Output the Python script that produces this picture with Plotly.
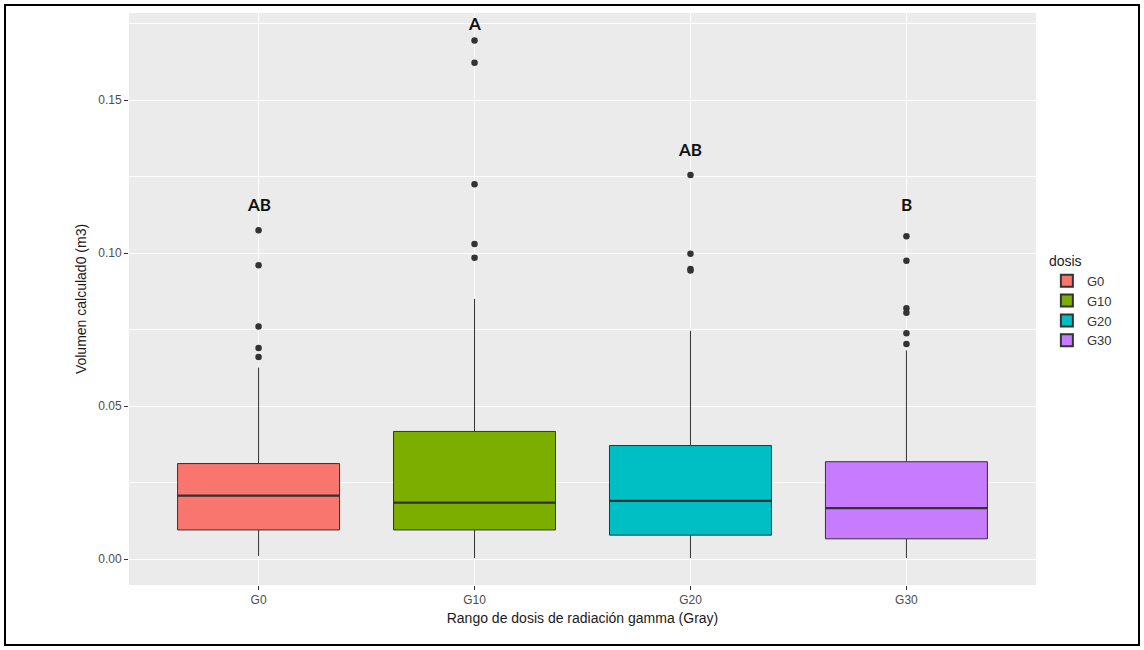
import plotly.graph_objects as go

# Dose groups and five-number summaries of calculated volume (m3)
categories = ["G0", "G10", "G20", "G30"]
q1 = [0.0095, 0.0095, 0.0078, 0.0066]
median = [0.0207, 0.0184, 0.0190, 0.0166]
q3 = [0.0312, 0.0417, 0.0371, 0.0318]
lower_whisker = [0.0010, 0.0003, 0.0003, 0.0003]
upper_whisker = [0.0626, 0.0850, 0.0746, 0.0682]

# Outlying observations per group
outliers = [
    [0.1075, 0.0960, 0.0760, 0.0690, 0.0660],
    [0.1695, 0.1622, 0.1225, 0.1030, 0.0985],
    [0.1255, 0.0998, 0.0948, 0.0943],
    [0.1055, 0.0975, 0.0820, 0.0805, 0.0738, 0.0703],
]

# Significance letters and their heights
letters = ["AB", "A", "AB", "B"]
letter_y = [0.1160, 0.1750, 0.1340, 0.1160]

fills = ["#F8766D", "#7CAE00", "#00BFC4", "#C77CFF"]
edge = "#333333"
box_w = 0.75

W, H = 1144, 650
ML, MR, MT, MB = 129, 108, 13, 65

fig = go.Figure()
for i, cat in enumerate(categories):
    fig.add_trace(go.Box(
        x=[i], q1=[q1[i]], median=[median[i]], q3=[q3[i]],
        lowerfence=[lower_whisker[i]], upperfence=[upper_whisker[i]],
        name=cat, width=box_w, fillcolor=fills[i],
        line=dict(color=edge, width=1), whiskerwidth=0,
        boxpoints=False, showlegend=True, legendgroup=cat,
    ))
    # thicker median bar
    fig.add_trace(go.Scatter(
        x=[i - box_w / 2, i + box_w / 2], y=[median[i], median[i]],
        mode="lines", line=dict(color=edge, width=2.2),
        showlegend=False, hoverinfo="skip", legendgroup=cat,
    ))
    fig.add_trace(go.Scatter(
        x=[i] * len(outliers[i]), y=outliers[i], mode="markers",
        marker=dict(color=edge, size=6.5), showlegend=False,
        legendgroup=cat,
    ))
    fig.add_annotation(
        x=i, y=letter_y[i], text="<b>" + letters[i] + "</b>",
        showarrow=False, font=dict(family="Lato, Open Sans, sans-serif", size=17, color="#111111"),
    )

plot_w = W - ML - MR
plot_h = H - MT - MB

# outer frame around the whole figure
fig.add_shape(
    type="rect", xref="paper", yref="paper",
    x0=(5 - ML) / plot_w, x1=(1139 - ML) / plot_w,
    y0=(H - MB - 645) / plot_h, y1=(H - MB - 5) / plot_h,
    line=dict(color="black", width=2), fillcolor="rgba(0,0,0,0)", layer="above",
)

tick_font = dict(family="Liberation Sans, Arial, sans-serif", size=12, color="#4D4D4D")
title_font = dict(family="Liberation Sans, Arial, sans-serif", size=14, color="#1a1a1a")

fig.update_layout(
    width=W, height=H,
    margin=dict(l=ML, r=MR, t=MT, b=MB),
    paper_bgcolor="white", plot_bgcolor="#EBEBEB",
    boxmode="overlay",
    showlegend=True,
    legend=dict(
        title=dict(text="dosis", font=dict(family="Liberation Sans, Arial, sans-serif", size=14, color="#1a1a1a")),
        font=dict(family="Liberation Sans, Arial, sans-serif", size=13, color="#333333"),
        x=1.012, xanchor="left", y=0.59, yanchor="top",
        bgcolor="rgba(0,0,0,0)", itemsizing="constant", tracegroupgap=0,
    ),
    xaxis=dict(
        range=[-0.6, 3.6], tickmode="array",
        tickvals=list(range(len(categories))), ticktext=categories,
        showgrid=True, gridcolor="white", gridwidth=1.1, zeroline=False,
        ticks="outside", ticklen=4, tickcolor="#333333", tickfont=tick_font,
        title=dict(text="Rango de dosis de radiación gamma (Gray)", font=title_font, standoff=6),
        showline=False,
    ),
    yaxis=dict(
        range=[-0.0085, 0.1785], tickvals=[0, 0.05, 0.10, 0.15], tickformat=".2f",
        showgrid=True, gridcolor="white", gridwidth=1.1, zeroline=False,
        minor=dict(tickvals=[0.025, 0.075, 0.125, 0.175], showgrid=True, gridcolor="white", gridwidth=0.6),
        ticks="outside", ticklen=4, tickcolor="#333333", tickfont=tick_font,
        title=dict(text="Volumen calculad0 (m3)", font=title_font, standoff=8),
        showline=False,
    ),
)

fig.write_html("out.html")
